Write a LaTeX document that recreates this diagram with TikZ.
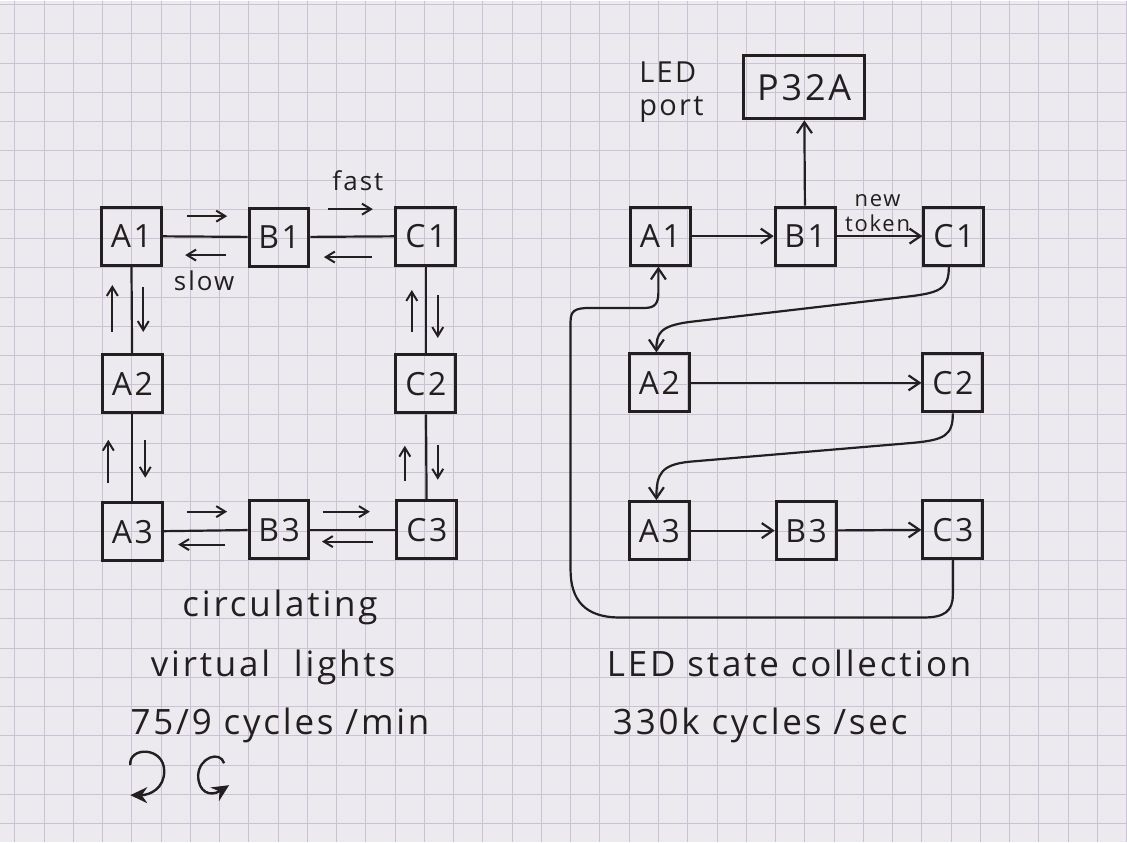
\documentclass[tikz,border=0pt]{standalone}
\usepackage{fontspec}
\setmainfont{Open Sans}[LetterSpace=8]
\usetikzlibrary{arrows.meta, positioning, calc}
\definecolor{paper}{HTML}{ECEAEE}
\definecolor{gridc}{HTML}{C9C3D3}
\definecolor{ink}{HTML}{231F21}

\newcommand{\fs}[1]{\fontsize{#1}{1.15\dimexpr#1pt\relax}\selectfont}

\begin{document}
\begin{tikzpicture}[
  x=1pt, y=-1pt,
  every node/.style={text=ink, font=\fs{32}},
  led/.style={draw=ink, line width=3pt, minimum width=60pt,
              minimum height=58pt, inner sep=0pt},
  port/.style={led, minimum width=121pt, minimum height=63pt, font=\fs{36}},
  link/.style={draw=ink, line width=2.2pt},
  flow/.style={link, -{Straight Barb[length=11pt, width=15pt, line width=2.2pt]}},
  hint/.style={draw=ink, line width=2pt,
               -{Straight Barb[length=9pt, width=11pt, line width=2pt]}},
  curl/.style={draw=ink, line width=2.4pt,
               -{Stealth[length=17pt, width=16pt]}},
  note/.style={anchor=base, font=\fs{35}},
  small/.style={font=\fs{26}, inner sep=1pt},
]

% paper
\fill[paper] (0,0) rectangle (1127,843);
\foreach \i in {0,...,38} \draw[gridc, line width=1pt] (14.5+29.3*\i,0) -- (14.5+29.3*\i,843);
\foreach \j in {0,...,28} \draw[gridc, line width=1pt] (0,4.2+29.3*\j) -- (1127,4.2+29.3*\j);
\useasboundingbox (0,0) rectangle (1127,843);

% circulating virtual lights
\node[led] (A1) at (131,236) {A1};
\node[led] (B1) at (279,237) {B1};
\node[led] (C1) at (426,236) {C1};
\node[led] (A2) at (132,384) {A2};
\node[led] (C2) at (426,384) {C2};
\node[led] (A3) at (132,532) {A3};
\node[led] (B3) at (279,530) {B3};
\node[led] (C3) at (427,530) {C3};

\draw[link] (A1) -- (B1);
\draw[link] (B1) -- (C1);
\draw[link] (A1) -- (A2);
\draw[link] (A2) -- (A3);
\draw[link] (C1) -- (C2);
\draw[link] (C2) -- (C3);
\draw[link] (A3) -- (B3);
\draw[link] (B3) -- (C3);

\foreach \xa/\ya/\xb/\yb in {187/216/227/216, 226/255/185/255,
    328/209/373/209, 372/257/324/257,
    112/332/112/285, 143/287/143/332,
    108/483/108/440, 145/440/145/478,
    412/332/412/290, 438/295/438/338,
    405/481/405/446, 438/445/438/480,
    187/512/227/512, 225/545/178/545,
    323/512/370/512, 373/542/322/542}
  \draw[hint] (\xa,\ya) -- (\xb,\yb);

\node[small] (fast) at (358,180) {fast};
\node[small] (slow) at (204,281) {slow};

\node[note] (circ) at (280,617) {circulating};
\node[note] (virt) at (273,677) {virtual\ \ lights};
\node[note] (rate) at (280,735) {75/9 cycles /min};

\draw[curl] (130,766) .. controls (128,747) and (164,747) .. (164,772)
            .. controls (164,789) and (150,796) .. (130,796);
\draw[curl] (224,764) .. controls (220,751) and (199,758) .. (198,776)
            .. controls (198,793) and (210,798) .. (229,786);

% LED state collection
\node[port] (P32A) at (805,87) {P32A};
\node[small, font=\fs{29}, align=left] (portlbl) at (672,92) {LED\\port};

\node[led] (rA1) at (661,236) {A1};
\node[led] (rB1) at (806,236) {B1};
\node[led] (rC1) at (955,236) {C1};
\node[led] (rA2) at (660,383) {A2};
\node[led] (rC2) at (954,383) {C2};
\node[led] (rA3) at (660,531) {A3};
\node[led] (rB3) at (807,531) {B3};
\node[led] (rC3) at (954,530) {C3};

\draw[flow] (rB1) -- (P32A);
\draw[flow] (rA1) -- (rB1);
\draw[flow] (rB1) -- (rC1) node[midway, above, small, align=center,
  font=\fs{22}, yshift=2pt, xshift=-2pt] {new\\token};
\draw[flow] (rA2) -- (rC2);
\draw[flow] (rA3) -- (rB3);
\draw[flow] (rB3) -- (rC3);

\draw[flow] ([xshift=-5pt]rC1.south) .. controls (950,290) and (940,293) .. (905,297)
  -- (690,322) .. controls (660,326) and (657,334) .. ([xshift=-3pt]rA2.north);
\draw[flow] (rC2.south) .. controls (954,436) and (945,440) .. (915,443)
  -- (690,462) .. controls (662,465) and (657,474) .. ([xshift=-3pt]rA3.north);
\draw[flow] (rC3.south) -- (954,595) .. controls (954,612) and (945,618) .. (925,618)
  -- (620,618) .. controls (585,618) and (571,600) .. (571,570)
  -- (571,322) .. controls (571,311) and (575,308) .. (590,308)
  -- (645,308) .. controls (656,308) and (659,303) .. (659,292)
  -- ([xshift=-2pt]rA1.south);

\node[note] (coll) at (790,677) {LED state collection};
\node[note] (krate) at (761,735) {330k cycles /sec};

\end{tikzpicture}
\end{document}
